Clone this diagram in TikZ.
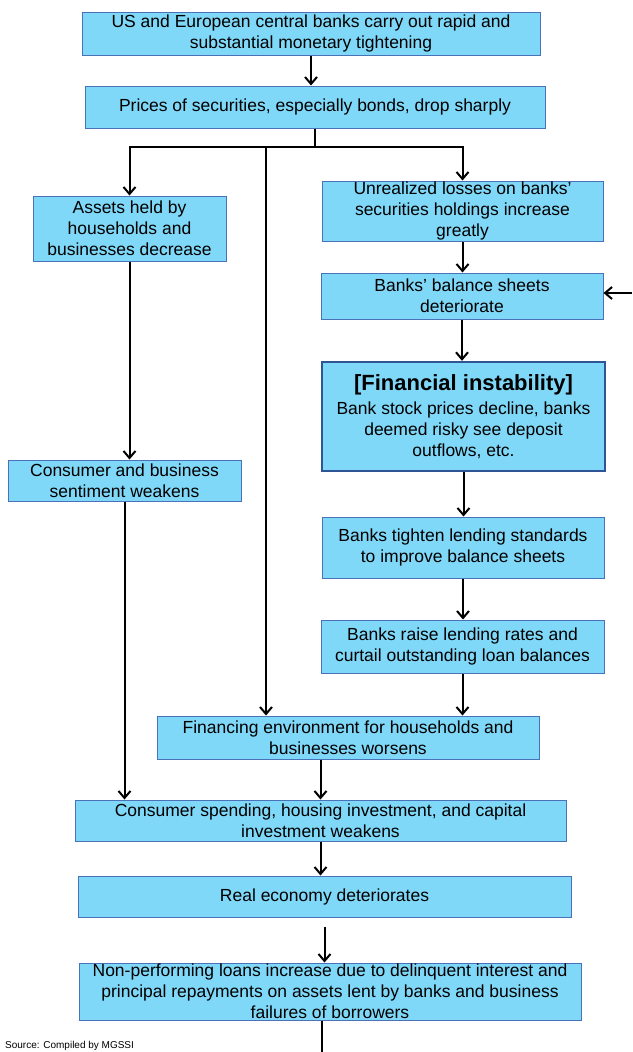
\documentclass[tikz,border=0pt]{standalone}
\usepackage{fontspec}
\setmainfont{Liberation Sans}
\usetikzlibrary{arrows.meta}
\definecolor{boxfill}{HTML}{80D8F8}
\definecolor{boxline}{HTML}{4A72B8}
\definecolor{boxdark}{HTML}{2F5597}
\begin{document}
\begin{tikzpicture}[x=1pt,y=-1pt,
    arr/.style={-{Straight Barb[length=7pt,width=12pt]},line width=2pt},
    box/.style={draw=boxline,fill=boxfill,line width=1pt,align=center,inner sep=0pt,
      font=\fontsize{17.5}{21}\selectfont}]
    \useasboundingbox (0,0) rectangle (632,1052);
    \node[box,minimum width=458,minimum height=43] (top) at (311,33.5) {US and European central banks carry out rapid and\\substantial monetary tightening};
    \node[box,minimum width=460,minimum height=42] (prices) at (315,107) {Prices of securities, especially bonds, drop sharply};
    \node[box,minimum width=193,minimum height=65] (assets) at (129.5,228.5) {Assets held by\\households and\\businesses decrease};
    \node[box,minimum width=281,minimum height=60] (unreal) at (462.5,211) {Unrealized losses on banks’\\securities holdings increase\\greatly};
    \node[box,minimum width=282,minimum height=46] (balance) at (462,296) {Banks’ balance sheets\\deteriorate};
    \node[box,draw=boxdark,line width=2.4pt,minimum width=283,minimum height=109] (instab) at (463.5,416.5) {{\fontsize{22}{25}\selectfont\bfseries [Financial instability]}\\[3pt]Bank stock prices decline, banks\\deemed risky see deposit\\outflows, etc.};
    \node[box,minimum width=282,minimum height=61] (tighten) at (463,547.5) {Banks tighten lending standards\\to improve balance sheets};
    \node[box,minimum width=283,minimum height=53] (raise) at (462.5,646.5) {Banks raise lending rates and\\curtail outstanding loan balances};
    \node[box,minimum width=382,minimum height=43] (financing) at (348,737.5) {Financing environment for households and\\businesses worsens};
    \node[box,minimum width=233,minimum height=41] (sentiment) at (124.5,480.5) {Consumer and business\\sentiment weakens};
    \node[box,minimum width=491,minimum height=41] (spending) at (320.5,820.5) {Consumer spending, housing investment, and capital\\investment weakens};
    \node[box,minimum width=493,minimum height=41] (real) at (324.5,896.5) {Real economy deteriorates};
    \node[box,minimum width=502,minimum height=57] (npl) at (330,991.5) {Non-performing loans increase due to delinquent interest and\\principal repayments on assets lent by banks and business\\failures of borrowers};
    \node[anchor=base west,inner sep=0pt,font=\fontsize{10}{12}\selectfont] (source) at (5,1048) {Source: Compiled by MGSSI};
    \coordinate (fork) at (315,147);
    \coordinate (midline) at (266,147);
    \coordinate (feedback) at (632,293);
    \coordinate (bottom) at (322,1060);
    % fan out below the price drop
    \draw[arr] (top.south) -- (top.south |- prices.north);
    \draw[line width=2pt] (prices.south -| fork) -- (fork);
    \draw[arr] (fork) -| (assets.north);
    \draw[arr] (fork) -| (unreal.north);
    \draw[arr] (midline) -- (midline |- financing.north);
    % bank channel
    \draw[arr] (unreal.south) -- (unreal.south |- balance.north);
    \draw[arr] (feedback) -- (feedback -| balance.east);
    \draw[arr] (balance.south) -- (balance.south |- instab.north);
    \draw[arr] (instab.south) -- (instab.south |- tighten.north);
    \draw[arr] (tighten.south) -- (tighten.south |- raise.north);
    \draw[arr] (raise.south) -- (raise.south |- financing.north);
    % household channel
    \draw[arr] (assets.south) -- (assets.south |- sentiment.north);
    \draw[arr] (sentiment.south) -- (sentiment.south |- spending.north);
    \draw[arr] (spending.north |- financing.south) -- (spending.north);
    \draw[arr] (spending.south) -- (spending.south |- real.north);
    \draw[arr] ([yshift=-9pt]real.south) -- (real.south |- npl.north);
    \draw[line width=2pt] (npl.south -| bottom) -- (bottom);
\end{tikzpicture}
\end{document}
